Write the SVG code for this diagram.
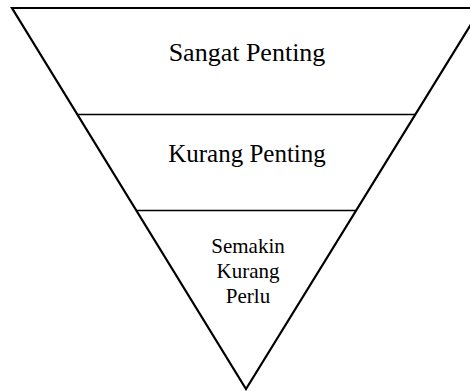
<svg xmlns="http://www.w3.org/2000/svg" width="470" height="391" viewBox="0 0 470 391">
<style>
.tri{fill:#fff;stroke:#000;stroke-width:2.2;stroke-linejoin:miter}
.div{stroke:#000;stroke-width:1.3}
text{font-family:"Liberation Serif","Times New Roman",serif;fill:#000;text-anchor:middle}
</style>
<rect width="470" height="391" fill="#fff"/>
<g id="pyramid">
<polygon class="tri" points="12,8 481,8 246,389"/>
</g>
<g id="connectors">
<line class="div" x1="77" y1="114.5" x2="415" y2="114.5"/>
<line class="div" x1="136" y1="210.5" x2="356" y2="210.5"/>
</g>
<g id="level1"><text x="247" y="61" font-size="26">Sangat Penting</text></g>
<g id="level2"><text x="247" y="162" font-size="25">Kurang Penting</text></g>
<g id="level3">
<text x="248" y="253" font-size="21">Semakin</text>
<text x="248" y="278" font-size="21">Kurang</text>
<text x="248" y="303" font-size="21">Perlu</text>
</g>
</svg>
